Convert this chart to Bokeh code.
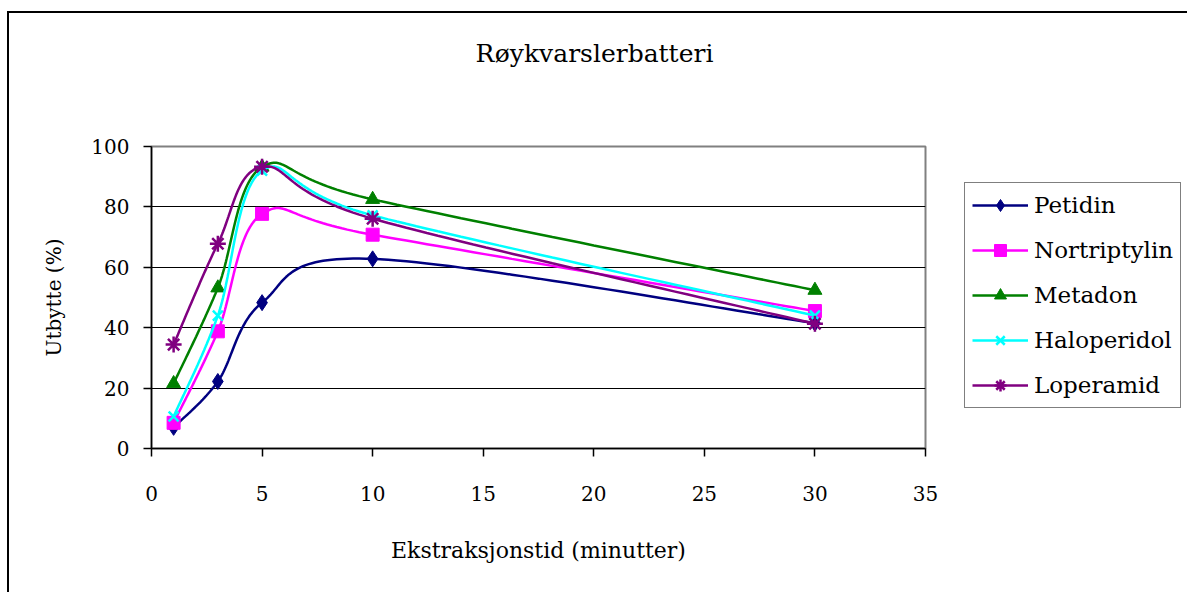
import numpy as np
from bokeh.plotting import figure
from bokeh.models import Range1d, FixedTicker, Legend, LegendItem, LinearAxis
from bokeh.embed import file_html
from bokeh.resources import INLINE

# ---- data ----
minutes = [1, 3, 5, 10, 30]
petidin = [7.0, 22.2, 48.3, 62.8, 41.5]
nortriptylin = [8.5, 38.8, 77.7, 70.8, 45.5]
metadon = [21.5, 53.2, 93.2, 82.5, 52.4]
haloperidol = [10.6, 44.0, 92.0, 77.2, 44.0]
loperamid = [34.4, 67.8, 93.3, 76.1, 41.3]

series_names = ["Petidin", "Nortriptylin", "Metadon", "Haloperidol", "Loperamid"]
series_values = [petidin, nortriptylin, metadon, haloperidol, loperamid]
colors = ["#000080", "#FF00FF", "#008000", "#00FFFF", "#800080"]
markers = ["diamond", "square", "triangle", "x", "asterisk"]
marker_sizes = [16, 13, 14, 14, 16]

x_ticks = [0, 5, 10, 15, 20, 25, 30, 35]
y_ticks = [0, 20, 40, 60, 80, 100]

chart_title = "Røykvarslerbatteri"
x_title = "Ekstraksjonstid (minutter)"
y_title = "Utbytte (%)"

FONT = "DejaVu Serif"


def smooth(xs, ys, n=40):
    """Excel-like smoothed line: cubic Bezier segments through the points."""
    pts = np.column_stack([np.asarray(xs, float), np.asarray(ys, float)])
    out = []
    t = np.linspace(0, 1, n)[:, None]
    for i in range(len(pts) - 1):
        p0 = pts[i - 1] if i > 0 else pts[i]
        p1 = pts[i]
        p2 = pts[i + 1]
        p3 = pts[i + 2] if i + 2 < len(pts) else pts[i + 1]
        c1 = p1 + (p2 - p0) / 6.0
        c2 = p2 - (p3 - p1) / 6.0
        seg = (1 - t) ** 3 * p1 + 3 * (1 - t) ** 2 * t * c1 + 3 * (1 - t) * t ** 2 * c2 + t ** 3 * p2
        out.append(seg if i == 0 else seg[1:])
    arr = np.vstack(out)
    return arr[:, 0], arr[:, 1]


p = figure(frame_width=774, frame_height=302, output_backend="svg", toolbar_location=None,
           x_range=Range1d(0, 35), y_range=Range1d(0, 100),
           min_border_left=142, min_border_top=133,
           min_border_right=260, min_border_bottom=144)
p.styles = {"margin-left": "7px", "margin-top": "11px",
            "border-left": "2px solid black", "border-top": "2px solid black"}

# the bottom and left axes created by figure()
xa = p.below[0]
ya = p.left[0]

# invisible spacer axis above the frame, so the title sits higher
spacer_axis = LinearAxis(ticker=FixedTicker(ticks=[]), axis_line_color=None,
                         major_tick_out=0, major_tick_in=0, minor_tick_out=0, minor_tick_in=0,
                         major_label_standoff=0, axis_label=" ",
                         axis_label_standoff=60, axis_label_text_font_size="10px",
                         axis_label_text_color="white")
p.add_layout(spacer_axis, "above")

p.title.text = chart_title
p.title.align = "left"
p.title.offset = 324
p.title.vertical_align = "bottom"
p.title.standoff = 10
p.title.text_font = FONT
p.title.text_font_size = "25px"
p.title.text_font_style = "normal"
p.title.text_color = "black"

p.background_fill_color = "white"
p.border_fill_color = "white"
p.outline_line_color = "#808080"
p.outline_line_width = 2

p.xgrid.visible = False
p.ygrid.ticker = FixedTicker(ticks=y_ticks)
p.ygrid.grid_line_color = "black"
p.ygrid.grid_line_width = 1
p.ygrid.grid_line_alpha = 1.0

for ax in (xa, ya):
    ax.axis_line_color = "black"
    ax.axis_line_width = 1.5
    ax.major_tick_line_color = "black"
    ax.major_tick_line_width = 1.5
    ax.major_tick_in = 0
    ax.major_tick_out = 8
    ax.minor_tick_line_color = None
    ax.major_label_text_font = FONT
    ax.major_label_text_font_size = "20px"
    ax.major_label_text_color = "black"
    ax.axis_label_text_font = FONT
    ax.axis_label_text_font_style = "normal"
    ax.axis_label_text_color = "black"

xa.axis_label_text_font_size = "22px"
ya.axis_label_text_font_size = "20px"
xa.ticker = FixedTicker(ticks=x_ticks)
ya.ticker = FixedTicker(ticks=y_ticks)
xa.major_label_standoff = 29
ya.major_label_standoff = 14
xa.axis_label = x_title
ya.axis_label = y_title
xa.axis_label_standoff = 34
ya.axis_label_standoff = 22

items = []
for name, vals, col, mk, ms in zip(series_names, series_values, colors, markers, marker_sizes):
    sx, sy = smooth(minutes, vals)
    r_line = p.line(sx, sy, line_color=col, line_width=2.5)
    r_pts = p.scatter(minutes, vals, marker=mk, size=ms, fill_color=col, line_color=col,
                      line_width=2.5 if mk in ("x", "asterisk") else 1)
    items.append(LegendItem(label=name, renderers=[r_line, r_pts]))

legend = Legend(items=items, location=(39, 40))
legend.margin = 0
legend.padding = 7
legend.spacing = 15
legend.glyph_width = 56
legend.glyph_height = 30
legend.label_height = 30
legend.label_standoff = 6
legend.label_text_font = FONT
legend.label_text_font_size = "23px"
legend.label_text_color = "black"
legend.border_line_color = "black"
legend.border_line_width = 1.5
legend.background_fill_color = "white"
legend.background_fill_alpha = 1.0
p.add_layout(legend, "right")

open("out.html", "w").write(file_html(p, INLINE))
